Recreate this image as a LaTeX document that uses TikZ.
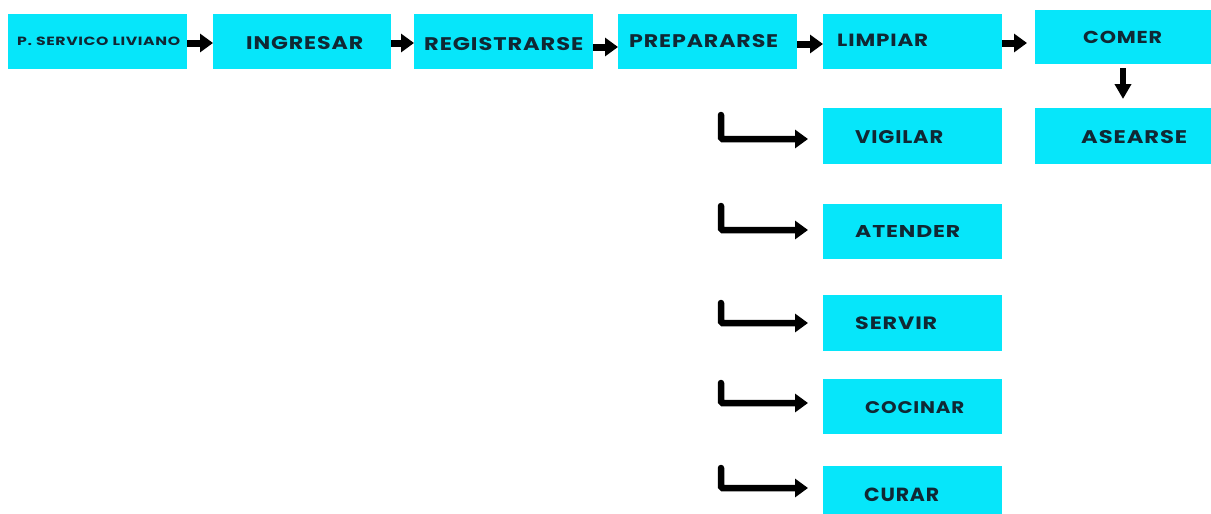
\documentclass[tikz,border=0pt]{standalone}
\usepackage{fontspec}
\usepackage{graphicx}
\usetikzlibrary{arrows.meta}
\newfontfamily\labfont{Poppins}[LetterSpace=4]
\definecolor{boxcyan}{RGB}{6,230,250}
\definecolor{labink}{RGB}{16,40,52}
\newcommand\fw[3]{\resizebox{#1}{#2}{\labfont\bfseries #3}}
\tikzset{
  box/.style={fill=boxcyan, draw=none, inner sep=0pt, outer sep=0pt},
  lbl/.style={anchor=west, inner sep=0pt, text=labink},
  harr/.style={line width=7pt, -{Triangle[length=13pt,width=18pt]}},
  larr/.style={line width=6.5pt, rounded corners=1.5pt, line cap=round, -{Triangle[length=13pt,width=18pt]}, shorten >=15pt},
  varr/.style={line width=5.5pt, -{Triangle[length=15pt,width=16pt]}, shorten <=4pt, shorten >=9pt}
}
\begin{document}
\begin{tikzpicture}[x=1pt,y=-1pt]
\useasboundingbox (0,0) rectangle (1211,514);
\fill[white] (0,0) rectangle (1211,514);
% boxes
\node[box, minimum width=179pt, minimum height=55pt] (b1) at (97.5,41.5) {};
\node[box, minimum width=178pt, minimum height=55pt] (b2) at (302,41.5) {};
\node[box, minimum width=179pt, minimum height=55pt] (b3) at (503.5,41.5) {};
\node[box, minimum width=179pt, minimum height=55pt] (b4) at (707.5,41.5) {};
\node[box, minimum width=179pt, minimum height=55pt] (b5) at (912.5,41.5) {};
\node[box, minimum width=176pt, minimum height=54pt] (comer) at (1123,37) {};
\node[box, minimum width=176pt, minimum height=56pt] (asear) at (1123,136) {};
\node[box, minimum width=179pt, minimum height=56pt] (vig) at (912.5,136) {};
\node[box, minimum width=179pt, minimum height=55pt] (ate) at (912.5,231.5) {};
\node[box, minimum width=179pt, minimum height=56pt] (ser) at (912.5,323) {};
\node[box, minimum width=179pt, minimum height=55pt] (coc) at (912.5,406.5) {};
\node[box, minimum width=179pt, minimum height=50pt] (cur) at (912.5,491) {};
% labels
\node[lbl] (t1) at (17,41.5) {\fw{163pt}{8.5pt}{P. SERVICO LIVIANO}};
\node[lbl] (t2) at (246,43.3) {\fw{117pt}{13pt}{INGRESAR}};
\node[lbl] (t3) at (424,44.2) {\fw{159pt}{13pt}{REGISTRARSE}};
\node[lbl] (t4) at (629,40.8) {\fw{149pt}{13pt}{PREPARARSE}};
\node[lbl] (t5) at (837,40.5) {\fw{91pt}{12.4pt}{LIMPIAR}};
\node[lbl] (t6) at (1083,37.8) {\fw{79pt}{12.3pt}{COMER}};
\node[lbl] (t7) at (855,136.7) {\fw{88pt}{13pt}{VIGILAR}};
\node[lbl] (t8) at (1081,136.7) {\fw{106pt}{13pt}{ASEARSE}};
\node[lbl] (t9) at (855,231.7) {\fw{105pt}{12pt}{ATENDER}};
\node[lbl] (t10) at (855,323.7) {\fw{82pt}{12.7pt}{SERVIR}};
\node[lbl] (t11) at (865,408) {\fw{99pt}{12pt}{COCINAR}};
\node[lbl] (t12) at (864,494.8) {\fw{75pt}{13.5pt}{CURAR}};
% horizontal arrows
\draw[harr] ([yshift=-1.5pt]b1.east) -- ([yshift=-1.5pt]b2.west);
\draw[harr] ([yshift=-1.5pt]b2.east) -- ([yshift=-1.5pt]b3.west);
\draw[harr] ([yshift=-5.5pt]b3.east) -- ([yshift=-5.5pt]b4.west);
\draw[harr] ([yshift=-2.5pt]b4.east) -- ([yshift=-2.5pt]b5.west);
\draw[harr, shorten >=8pt] ([yshift=-1.5pt]b5.east) -- ([yshift=-1.5pt]b5.east -| comer.west);
% down arrow
\draw[varr] (comer.south) -- (asear.north);
% L arrows
\coordinate (s1) at (721,115);
\coordinate (s2) at (721,206);
\coordinate (s3) at (721,303);
\coordinate (s4) at (721,383);
\coordinate (s5) at (721,468);
\draw[larr] (s1) |- ([yshift=-3pt]vig.west);
\draw[larr] (s2) |- ([yshift=1.5pt]ate.west);
\draw[larr] (s3) |- (ser.west);
\draw[larr] (s4) |- ([yshift=3.5pt]coc.west);
\draw[larr] (s5) |- ([yshift=3pt]cur.west);
\end{tikzpicture}
\end{document}
